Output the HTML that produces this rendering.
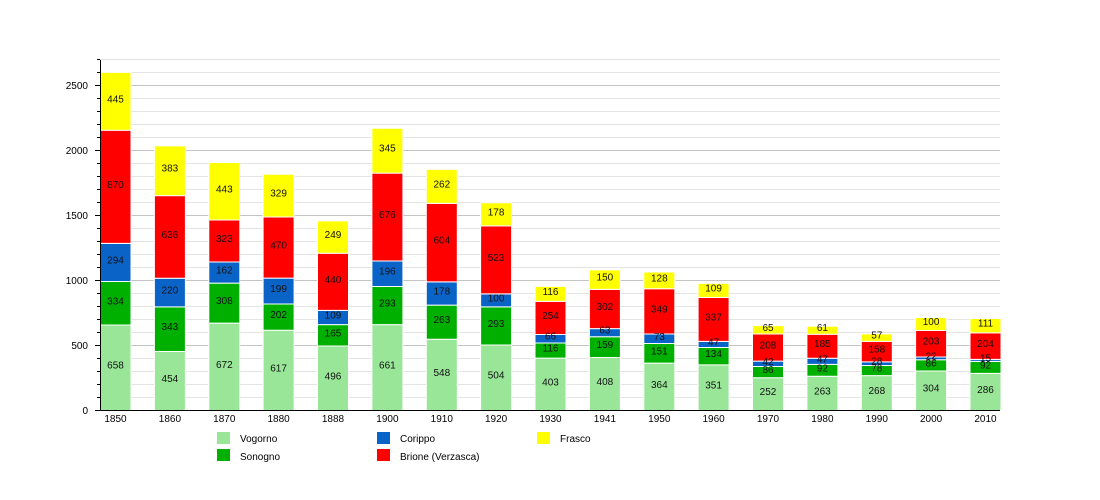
<!DOCTYPE html>
<html><head><meta charset="utf-8"><style>body{margin:0;background:#fff}svg{display:block;font-family:"Liberation Sans",sans-serif}</style></head><body>
<svg width="1100" height="500" viewBox="0 0 1100 500">
<g stroke="#e4e4e4" stroke-width="1">
<line x1="100" x2="1000" y1="397.5" y2="397.5"/><line x1="100" x2="1000" y1="384.5" y2="384.5"/><line x1="100" x2="1000" y1="371.5" y2="371.5"/><line x1="100" x2="1000" y1="358.5" y2="358.5"/>
<line x1="100" x2="1000" y1="332.5" y2="332.5"/><line x1="100" x2="1000" y1="319.5" y2="319.5"/><line x1="100" x2="1000" y1="306.5" y2="306.5"/><line x1="100" x2="1000" y1="293.5" y2="293.5"/>
<line x1="100" x2="1000" y1="267.5" y2="267.5"/><line x1="100" x2="1000" y1="254.5" y2="254.5"/><line x1="100" x2="1000" y1="241.5" y2="241.5"/><line x1="100" x2="1000" y1="228.5" y2="228.5"/>
<line x1="100" x2="1000" y1="202.5" y2="202.5"/><line x1="100" x2="1000" y1="189.5" y2="189.5"/><line x1="100" x2="1000" y1="176.5" y2="176.5"/><line x1="100" x2="1000" y1="163.5" y2="163.5"/>
<line x1="100" x2="1000" y1="137.5" y2="137.5"/><line x1="100" x2="1000" y1="124.5" y2="124.5"/><line x1="100" x2="1000" y1="111.5" y2="111.5"/><line x1="100" x2="1000" y1="98.5" y2="98.5"/>
<line x1="100" x2="1000" y1="72.5" y2="72.5"/><line x1="100" x2="1000" y1="59.5" y2="59.5"/>
</g>
<g stroke="#c4c4c4" stroke-width="1">
<line x1="100" x2="1000" y1="345.5" y2="345.5"/><line x1="100" x2="1000" y1="280.5" y2="280.5"/><line x1="100" x2="1000" y1="215.5" y2="215.5"/><line x1="100" x2="1000" y1="150.5" y2="150.5"/><line x1="100" x2="1000" y1="85.5" y2="85.5"/>
</g>
<g transform="translate(0,410.5) scale(1,-0.13)" stroke="#fff" stroke-width="1">
<g fill="#99e699">
<rect x="100" width="31" y="0" height="658" vector-effect="non-scaling-stroke"/>
<rect x="154.4" width="31" y="0" height="454" vector-effect="non-scaling-stroke"/>
<rect x="208.8" width="31" y="0" height="672" vector-effect="non-scaling-stroke"/>
<rect x="263.1" width="31" y="0" height="617" vector-effect="non-scaling-stroke"/>
<rect x="317.5" width="31" y="0" height="496" vector-effect="non-scaling-stroke"/>
<rect x="371.9" width="31" y="0" height="661" vector-effect="non-scaling-stroke"/>
<rect x="426.3" width="31" y="0" height="548" vector-effect="non-scaling-stroke"/>
<rect x="480.6" width="31" y="0" height="504" vector-effect="non-scaling-stroke"/>
<rect x="535" width="31" y="0" height="403" vector-effect="non-scaling-stroke"/>
<rect x="589.4" width="31" y="0" height="408" vector-effect="non-scaling-stroke"/>
<rect x="643.8" width="31" y="0" height="364" vector-effect="non-scaling-stroke"/>
<rect x="698.1" width="31" y="0" height="351" vector-effect="non-scaling-stroke"/>
<rect x="752.5" width="31" y="0" height="252" vector-effect="non-scaling-stroke"/>
<rect x="806.9" width="31" y="0" height="263" vector-effect="non-scaling-stroke"/>
<rect x="861.3" width="31" y="0" height="268" vector-effect="non-scaling-stroke"/>
<rect x="915.6" width="31" y="0" height="304" vector-effect="non-scaling-stroke"/>
<rect x="970" width="31" y="0" height="286" vector-effect="non-scaling-stroke"/>
</g>
<g fill="#00b000">
<rect x="100" width="31" y="658" height="334" vector-effect="non-scaling-stroke"/>
<rect x="154.4" width="31" y="454" height="343" vector-effect="non-scaling-stroke"/>
<rect x="208.8" width="31" y="672" height="308" vector-effect="non-scaling-stroke"/>
<rect x="263.1" width="31" y="617" height="202" vector-effect="non-scaling-stroke"/>
<rect x="317.5" width="31" y="496" height="165" vector-effect="non-scaling-stroke"/>
<rect x="371.9" width="31" y="661" height="293" vector-effect="non-scaling-stroke"/>
<rect x="426.3" width="31" y="548" height="263" vector-effect="non-scaling-stroke"/>
<rect x="480.6" width="31" y="504" height="293" vector-effect="non-scaling-stroke"/>
<rect x="535" width="31" y="403" height="116" vector-effect="non-scaling-stroke"/>
<rect x="589.4" width="31" y="408" height="159" vector-effect="non-scaling-stroke"/>
<rect x="643.8" width="31" y="364" height="151" vector-effect="non-scaling-stroke"/>
<rect x="698.1" width="31" y="351" height="134" vector-effect="non-scaling-stroke"/>
<rect x="752.5" width="31" y="252" height="86" vector-effect="non-scaling-stroke"/>
<rect x="806.9" width="31" y="263" height="92" vector-effect="non-scaling-stroke"/>
<rect x="861.3" width="31" y="268" height="78" vector-effect="non-scaling-stroke"/>
<rect x="915.6" width="31" y="304" height="86" vector-effect="non-scaling-stroke"/>
<rect x="970" width="31" y="286" height="92" vector-effect="non-scaling-stroke"/>
</g>
<g fill="#0a64c8">
<rect x="100" width="31" y="992" height="294" vector-effect="non-scaling-stroke"/>
<rect x="154.4" width="31" y="797" height="220" vector-effect="non-scaling-stroke"/>
<rect x="208.8" width="31" y="980" height="162" vector-effect="non-scaling-stroke"/>
<rect x="263.1" width="31" y="819" height="199" vector-effect="non-scaling-stroke"/>
<rect x="317.5" width="31" y="661" height="109" vector-effect="non-scaling-stroke"/>
<rect x="371.9" width="31" y="954" height="196" vector-effect="non-scaling-stroke"/>
<rect x="426.3" width="31" y="811" height="178" vector-effect="non-scaling-stroke"/>
<rect x="480.6" width="31" y="797" height="100" vector-effect="non-scaling-stroke"/>
<rect x="535" width="31" y="519" height="66" vector-effect="non-scaling-stroke"/>
<rect x="589.4" width="31" y="567" height="63" vector-effect="non-scaling-stroke"/>
<rect x="643.8" width="31" y="515" height="73" vector-effect="non-scaling-stroke"/>
<rect x="698.1" width="31" y="485" height="47" vector-effect="non-scaling-stroke"/>
<rect x="752.5" width="31" y="338" height="42" vector-effect="non-scaling-stroke"/>
<rect x="806.9" width="31" y="355" height="47" vector-effect="non-scaling-stroke"/>
<rect x="861.3" width="31" y="346" height="28" vector-effect="non-scaling-stroke"/>
<rect x="915.6" width="31" y="390" height="22" vector-effect="non-scaling-stroke"/>
<rect x="970" width="31" y="378" height="15" vector-effect="non-scaling-stroke"/>
</g>
<g fill="#ff0000">
<rect x="100" width="31" y="1286" height="870" vector-effect="non-scaling-stroke"/>
<rect x="154.4" width="31" y="1017" height="636" vector-effect="non-scaling-stroke"/>
<rect x="208.8" width="31" y="1142" height="323" vector-effect="non-scaling-stroke"/>
<rect x="263.1" width="31" y="1018" height="470" vector-effect="non-scaling-stroke"/>
<rect x="317.5" width="31" y="770" height="440" vector-effect="non-scaling-stroke"/>
<rect x="371.9" width="31" y="1150" height="676" vector-effect="non-scaling-stroke"/>
<rect x="426.3" width="31" y="989" height="604" vector-effect="non-scaling-stroke"/>
<rect x="480.6" width="31" y="897" height="523" vector-effect="non-scaling-stroke"/>
<rect x="535" width="31" y="585" height="254" vector-effect="non-scaling-stroke"/>
<rect x="589.4" width="31" y="630" height="302" vector-effect="non-scaling-stroke"/>
<rect x="643.8" width="31" y="588" height="349" vector-effect="non-scaling-stroke"/>
<rect x="698.1" width="31" y="532" height="337" vector-effect="non-scaling-stroke"/>
<rect x="752.5" width="31" y="380" height="208" vector-effect="non-scaling-stroke"/>
<rect x="806.9" width="31" y="402" height="185" vector-effect="non-scaling-stroke"/>
<rect x="861.3" width="31" y="374" height="158" vector-effect="non-scaling-stroke"/>
<rect x="915.6" width="31" y="412" height="203" vector-effect="non-scaling-stroke"/>
<rect x="970" width="31" y="393" height="204" vector-effect="non-scaling-stroke"/>
</g>
<g fill="#ffff00">
<rect x="100" width="31" y="2156" height="445" vector-effect="non-scaling-stroke"/>
<rect x="154.4" width="31" y="1653" height="383" vector-effect="non-scaling-stroke"/>
<rect x="208.8" width="31" y="1465" height="443" vector-effect="non-scaling-stroke"/>
<rect x="263.1" width="31" y="1488" height="329" vector-effect="non-scaling-stroke"/>
<rect x="317.5" width="31" y="1210" height="249" vector-effect="non-scaling-stroke"/>
<rect x="371.9" width="31" y="1826" height="345" vector-effect="non-scaling-stroke"/>
<rect x="426.3" width="31" y="1593" height="262" vector-effect="non-scaling-stroke"/>
<rect x="480.6" width="31" y="1420" height="178" vector-effect="non-scaling-stroke"/>
<rect x="535" width="31" y="839" height="116" vector-effect="non-scaling-stroke"/>
<rect x="589.4" width="31" y="932" height="150" vector-effect="non-scaling-stroke"/>
<rect x="643.8" width="31" y="937" height="128" vector-effect="non-scaling-stroke"/>
<rect x="698.1" width="31" y="869" height="109" vector-effect="non-scaling-stroke"/>
<rect x="752.5" width="31" y="588" height="65" vector-effect="non-scaling-stroke"/>
<rect x="806.9" width="31" y="587" height="61" vector-effect="non-scaling-stroke"/>
<rect x="861.3" width="31" y="532" height="57" vector-effect="non-scaling-stroke"/>
<rect x="915.6" width="31" y="615" height="100" vector-effect="non-scaling-stroke"/>
<rect x="970" width="31" y="597" height="111" vector-effect="non-scaling-stroke"/>
</g>
</g>
<g stroke="#000" stroke-width="1">
<line x1="100.5" x2="100.5" y1="60" y2="411"/>
<line x1="100" x2="1000" y1="410.5" y2="410.5"/>
<path d="M95 410.5h5M95 345.5h5M95 280.5h5M95 215.5h5M95 150.5h5M95 85.5h5M97 397.5h3M97 384.5h3M97 371.5h3M97 358.5h3M97 332.5h3M97 319.5h3M97 306.5h3M97 293.5h3M97 267.5h3M97 254.5h3M97 241.5h3M97 228.5h3M97 202.5h3M97 189.5h3M97 176.5h3M97 163.5h3M97 137.5h3M97 124.5h3M97 111.5h3M97 98.5h3M97 72.5h3M97 59.5h3"/>
</g>
<g font-size="10" fill="#000" text-anchor="end">
<text x="88" y="414">0</text><text x="88" y="349">500</text><text x="88" y="284">1000</text><text x="88" y="219">1500</text><text x="88" y="154">2000</text><text x="88" y="89">2500</text>
</g>
<g font-size="10" fill="#000" text-anchor="middle">
<text x="115.5" y="422">1850</text><text x="169.9" y="422">1860</text><text x="224.3" y="422">1870</text><text x="278.6" y="422">1880</text><text x="333" y="422">1888</text><text x="387.4" y="422">1900</text><text x="441.8" y="422">1910</text><text x="496.1" y="422">1920</text><text x="550.5" y="422">1930</text><text x="604.9" y="422">1941</text><text x="659.3" y="422">1950</text><text x="713.6" y="422">1960</text><text x="768" y="422">1970</text><text x="822.4" y="422">1980</text><text x="876.8" y="422">1990</text><text x="931.1" y="422">2000</text><text x="985.5" y="422">2010</text>
</g>
<g font-size="10" fill="#111" text-anchor="middle">
<text x="115.5" y="368.7">658</text><text x="115.5" y="304.3">334</text><text x="115.5" y="263.4">294</text><text x="115.5" y="187.8">870</text><text x="115.5" y="102.3">445</text>
<text x="169.9" y="382">454</text><text x="169.9" y="330.2">343</text><text x="169.9" y="293.6">220</text><text x="169.9" y="237.9">636</text><text x="169.9" y="171.7">383</text>
<text x="224.3" y="367.8">672</text><text x="224.3" y="304.1">308</text><text x="224.3" y="273.6">162</text><text x="224.3" y="242">323</text><text x="224.3" y="192.3">443</text>
<text x="278.6" y="371.4">617</text><text x="278.6" y="318.2">202</text><text x="278.6" y="292.1">199</text><text x="278.6" y="248.6">470</text><text x="278.6" y="196.7">329</text>
<text x="333" y="379.3">496</text><text x="333" y="336.3">165</text><text x="333" y="318.5">109</text><text x="333" y="282.8">440</text><text x="333" y="238">249</text>
<text x="387.4" y="368.5">661</text><text x="387.4" y="306.5">293</text><text x="387.4" y="274.7">196</text><text x="387.4" y="218.1">676</text><text x="387.4" y="151.7">345</text>
<text x="441.8" y="375.9">548</text><text x="441.8" y="323.2">263</text><text x="441.8" y="294.5">178</text><text x="441.8" y="243.7">604</text><text x="441.8" y="187.4">262</text>
<text x="496.1" y="378.7">504</text><text x="496.1" y="326.9">293</text><text x="496.1" y="301.4">100</text><text x="496.1" y="260.9">523</text><text x="496.1" y="215.3">178</text>
<text x="550.5" y="385.3">403</text><text x="550.5" y="351.6">116</text><text x="550.5" y="339.7">66</text><text x="550.5" y="318.9">254</text><text x="550.5" y="294.9">116</text>
<text x="604.9" y="385">408</text><text x="604.9" y="348.1">159</text><text x="604.9" y="333.7">63</text><text x="604.9" y="310">302</text><text x="604.9" y="280.6">150</text>
<text x="659.3" y="387.8">364</text><text x="659.3" y="354.4">151</text><text x="659.3" y="339.8">73</text><text x="659.3" y="312.4">349</text><text x="659.3" y="281.4">128</text>
<text x="713.6" y="388.7">351</text><text x="713.6" y="357.2">134</text><text x="713.6" y="345.4">47</text><text x="713.6" y="320.4">337</text><text x="713.6" y="291.4">109</text>
<text x="768" y="395.1">252</text><text x="768" y="373.1">86</text><text x="768" y="364.8">42</text><text x="768" y="348.6">208</text><text x="768" y="330.8">65</text>
<text x="822.4" y="394.4">263</text><text x="822.4" y="371.3">92</text><text x="822.4" y="362.3">47</text><text x="822.4" y="347.2">185</text><text x="822.4" y="331.2">61</text>
<text x="876.8" y="394.1">268</text><text x="876.8" y="371.6">78</text><text x="876.8" y="364.7">28</text><text x="876.8" y="352.6">158</text><text x="876.8" y="338.6">57</text>
<text x="931.1" y="391.7">304</text><text x="931.1" y="366.4">86</text><text x="931.1" y="359.4">22</text><text x="931.1" y="344.7">203</text><text x="931.1" y="325">100</text>
<text x="985.5" y="392.9">286</text><text x="985.5" y="368.3">92</text><text x="985.5" y="361.4">15</text><text x="985.5" y="347.1">204</text><text x="985.5" y="326.7">111</text>
</g>
<g font-size="10" fill="#000">
<rect x="217" y="432" width="13" height="12" fill="#99e699"/><text x="240" y="442">Vogorno</text>
<rect x="217" y="449" width="13" height="12" fill="#00b000"/><text x="240" y="460">Sonogno</text>
<rect x="377" y="432" width="13" height="12" fill="#0a64c8"/><text x="400" y="442">Corippo</text>
<rect x="377" y="449" width="13" height="12" fill="#ff0000"/><text x="400" y="460">Brione (Verzasca)</text>
<rect x="537" y="432" width="13" height="12" fill="#ffff00"/><text x="560" y="442">Frasco</text>
</g>
</svg>
</body></html>
